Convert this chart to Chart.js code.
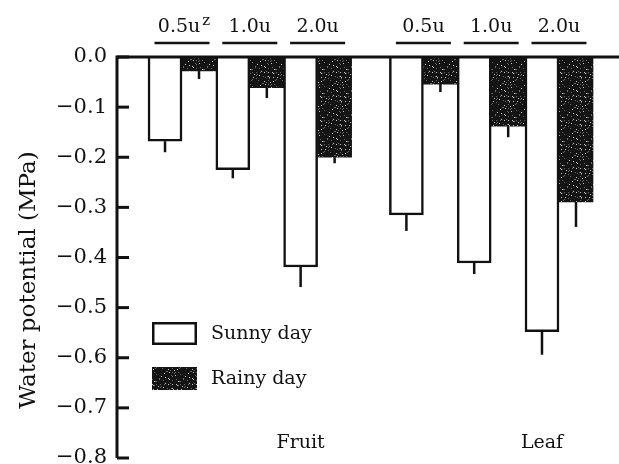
<!DOCTYPE html>
<html lang="en">
<head>
<meta charset="UTF-8">
<title>Water potential</title>
<script src="https://cdn.jsdelivr.net/npm/chart.js"></script>
<style>
  html, body { margin: 0; padding: 0; background: #fff; overflow: hidden; }
  #wrap { width: 619px; height: 464px; }
</style>
</head>
<body>
<div id="wrap"><canvas id="wpChart" width="619" height="464"></canvas></div>
<script>
// groups along the x axis and the treatment within each group
const organs = ['Fruit', 'Leaf'];
const doses = ['0.5u', '1.0u', '2.0u'];
const doseNote = 'z';

// water potential (MPa), ordered Fruit 0.5u..2.0u then Leaf 0.5u..2.0u
const sunnyValues = [-0.168, -0.225, -0.419, -0.315, -0.411, -0.548];
const sunnyErrors = [0.022, 0.017, 0.040, 0.032, 0.022, 0.046];
const rainyValues = [-0.028, -0.061, -0.200, -0.054, -0.138, -0.289];
const rainyErrors = [0.016, 0.021, 0.012, 0.016, 0.022, 0.050];

const yTicks = [0, -0.1, -0.2, -0.3, -0.4, -0.5, -0.6, -0.7, -0.8];

const SERIF = '"DejaVu Serif", serif';
const INK = '#111';
const BAR = 34;        // width of one bar in px
const GROUP_GAP = 0.56; // extra space between Fruit and Leaf, in pair widths

// x position of each dose pair
const pairX = [];
organs.forEach((o, g) => {
  doses.forEach((d, t) => pairX.push(1 + g * (doses.length + GROUP_GAP) + t));
});

// speckled dark fill for the rainy bars
function makeStipple() {
  const c = document.createElement('canvas');
  c.width = 24; c.height = 24;
  const g = c.getContext('2d');
  g.fillStyle = '#141414';
  g.fillRect(0, 0, 24, 24);
  for (let i = 0; i < 24; i++) {
    for (let j = 0; j < 24; j++) {
      const h = (i * 73 + j * 151 + i * j * 29) % 97;
      if (h < 9) {
        g.fillStyle = h < 3 ? '#c8c8c8' : '#6a6a6a';
        g.fillRect(i, j, 1, 1);
      }
    }
  }
  return g.createPattern(c, 'repeat');
}
const stipple = makeStipple();

function fmtTick(v) {
  const s = Math.abs(v).toFixed(1);
  return v < 0 ? '\u2212' + s : s;
}

const decorPlugin = {
  id: 'decor',
  afterDatasetsDraw(chart) {
    const ctx = chart.ctx;
    const xs = chart.scales.x, ys = chart.scales.y;
    const area = chart.chartArea;
    const y0 = ys.getPixelForValue(0);
    ctx.save();
    ctx.strokeStyle = INK;
    ctx.lineCap = 'butt';

    // error bars, downward only
    chart.data.datasets.forEach((ds, di) => {
      const meta = chart.getDatasetMeta(di);
      meta.data.forEach((bar, i) => {
        const v = ds.data[i].y;
        ctx.lineWidth = 2.5;
        ctx.beginPath();
        ctx.moveTo(bar.x, ys.getPixelForValue(v));
        ctx.lineTo(bar.x, ys.getPixelForValue(v - ds.errors[i]));
        ctx.stroke();
      });
    });

    // axis lines
    ctx.lineWidth = 3;
    ctx.beginPath();
    ctx.moveTo(area.left, area.bottom);
    ctx.lineTo(area.left, y0);
    ctx.lineTo(area.right, y0);
    ctx.stroke();

    // inward tick marks
    ys.ticks.forEach(t => {
      const y = ys.getPixelForValue(t.value);
      ctx.beginPath();
      ctx.moveTo(area.left, y);
      ctx.lineTo(area.left + 12, y);
      ctx.stroke();
    });

    // dose labels above the pairs, underlined
    ctx.fillStyle = INK;
    ctx.font = '19px ' + SERIF;
    ctx.textBaseline = 'alphabetic';
    pairX.forEach((px, i) => {
      const cx = xs.getPixelForValue(px);
      const label = doses[i % doses.length];
      ctx.textAlign = 'center';
      ctx.fillText(label, cx - (i === 0 ? 3 : 0), 32);
      if (i === 0) {
        const w = ctx.measureText(label).width;
        ctx.save();
        ctx.font = '15px ' + SERIF;
        ctx.textAlign = 'left';
        ctx.fillText(doseNote, cx - 3 + w / 2 + 2, 25);
        ctx.restore();
      }
      ctx.lineWidth = 2.5;
      ctx.beginPath();
      ctx.moveTo(cx - BAR + 6.5, 43);
      ctx.lineTo(cx + BAR - 6.5, 43);
      ctx.stroke();
    });

    // organ labels along the bottom
    ctx.textAlign = 'center';
    organs.forEach((o, g) => {
      const last = pairX[g * doses.length + doses.length - 1];
      ctx.fillText(o, xs.getPixelForValue(last) - BAR / 2, 448);
    });

    // legend
    const lx = area.left + 35;
    const rows = [322, 367];
    chart.data.datasets.forEach((ds, di) => {
      const top = rows[di];
      ctx.fillStyle = ds.backgroundColor;
      ctx.fillRect(lx, top, 45, 23);
      if (ds.borderWidth) {
        ctx.lineWidth = 2.5;
        ctx.strokeRect(lx + 1.25, top + 1.25, 42.5, 20.5);
      }
      ctx.fillStyle = INK;
      ctx.textAlign = 'left';
      ctx.textBaseline = 'middle';
      ctx.fillText(ds.label, lx + 59, top + 12);
    });

    // y axis title
    ctx.save();
    ctx.translate(29, 280);
    ctx.rotate(-Math.PI / 2);
    ctx.font = '23px ' + SERIF;
    ctx.textAlign = 'center';
    ctx.textBaseline = 'middle';
    ctx.fillText('Water potential (MPa)', 0, 0);
    ctx.restore();

    ctx.restore();
  }
};

new Chart(document.getElementById('wpChart'), {
  type: 'bar',
  data: {
    datasets: [
      {
        label: 'Sunny day',
        data: pairX.map((x, i) => ({ x: x, y: sunnyValues[i] })),
        errors: sunnyErrors,
        backgroundColor: '#ffffff',
        borderColor: INK,
        borderWidth: 2.5,
        barThickness: BAR
      },
      {
        label: 'Rainy day',
        data: pairX.map((x, i) => ({ x: x, y: rainyValues[i] })),
        errors: rainyErrors,
        backgroundColor: stipple,
        borderWidth: 0,
        barThickness: BAR
      }
    ]
  },
  options: {
    responsive: false,
    animation: false,
    layout: { padding: { top: 57, right: 0, bottom: 6, left: 0 } },
    plugins: {
      legend: { display: false },
      tooltip: { enabled: false }
    },
    scales: {
      x: {
        type: 'linear',
        display: false,
        offset: false,
        min: 0.041,
        max: 7.445
      },
      y: {
        min: -0.8,
        max: 0,
        grid: { display: false, drawTicks: false },
        border: { display: false },
        afterBuildTicks: s => { s.ticks = yTicks.map(v => ({ value: v })); },
        afterFit: s => { s.width = 117; s.paddingTop = 0; s.paddingBottom = 0; },
        ticks: {
          padding: 10,
          color: INK,
          font: { family: SERIF, size: 21 },
          callback: v => fmtTick(v)
        }
      }
    }
  },
  plugins: [decorPlugin]
});
</script>
</body>
</html>
